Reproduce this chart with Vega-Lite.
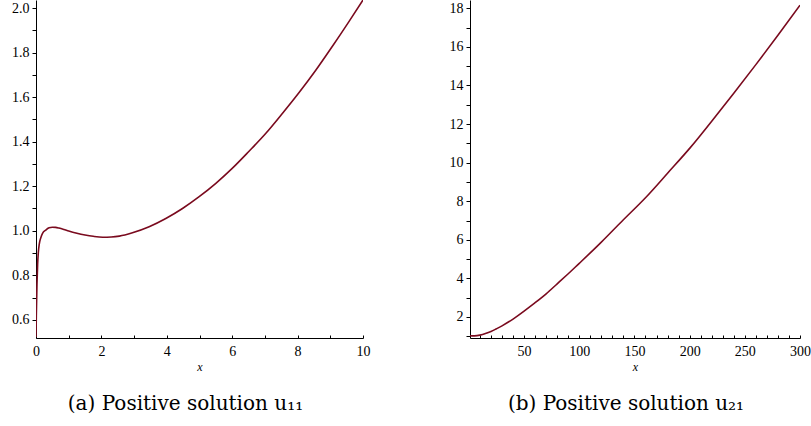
{
  "$schema": "https://vega.github.io/schema/vega-lite/v6.json",
  "padding": {"left": 11, "top": 0, "right": 3, "bottom": 0},
  "spacing": 79,
  "background": "white",
  "config": {
    "view": {"stroke": null},
    "axis": {
      "labelFont": "Liberation Serif, Times New Roman, serif",
      "labelFontSize": 14,
      "labelColor": "black",
      "titleFont": "Liberation Serif, Times New Roman, serif",
      "titleFontSize": 12,
      "titleFontStyle": "italic",
      "titleFontWeight": "normal",
      "titleColor": "black",
      "domainColor": "black",
      "tickColor": "black",
      "grid": false,
      "labelFlush": false,
      "labelOverlap": false
    },
    "title": {"font": "DejaVu Serif, serif", "fontSize": 20, "fontWeight": "normal", "color": "black"}
  },
  "datasets": {
    "u11": [
      {"x": 0, "y": 0.523},
      {"x": 0.01, "y": 0.62},
      {"x": 0.03, "y": 0.76},
      {"x": 0.05, "y": 0.85},
      {"x": 0.07, "y": 0.9},
      {"x": 0.1, "y": 0.94},
      {"x": 0.15, "y": 0.97},
      {"x": 0.2, "y": 0.988},
      {"x": 0.3, "y": 1.003},
      {"x": 0.4, "y": 1.013},
      {"x": 0.5, "y": 1.016},
      {"x": 0.6, "y": 1.015},
      {"x": 0.7, "y": 1.012},
      {"x": 0.85, "y": 1.006},
      {"x": 1.0, "y": 0.999},
      {"x": 1.25, "y": 0.989},
      {"x": 1.5, "y": 0.981},
      {"x": 1.75, "y": 0.975},
      {"x": 2.04, "y": 0.971},
      {"x": 2.3, "y": 0.972},
      {"x": 2.55, "y": 0.976},
      {"x": 2.95, "y": 0.991},
      {"x": 3.46, "y": 1.018},
      {"x": 3.97, "y": 1.055},
      {"x": 4.48, "y": 1.1},
      {"x": 4.99, "y": 1.153},
      {"x": 5.5, "y": 1.213},
      {"x": 6.0, "y": 1.28},
      {"x": 6.5, "y": 1.355},
      {"x": 7.03, "y": 1.438},
      {"x": 7.54, "y": 1.528},
      {"x": 8.04, "y": 1.62},
      {"x": 8.55, "y": 1.72},
      {"x": 9.06, "y": 1.828},
      {"x": 9.57, "y": 1.94},
      {"x": 10, "y": 2.037}
    ],
    "u21": [
      {"x": 1, "y": 1.03},
      {"x": 5, "y": 1.02},
      {"x": 10, "y": 1.06},
      {"x": 15, "y": 1.14},
      {"x": 20, "y": 1.25},
      {"x": 25, "y": 1.39},
      {"x": 30, "y": 1.54},
      {"x": 40, "y": 1.89},
      {"x": 50, "y": 2.3},
      {"x": 60, "y": 2.74},
      {"x": 70, "y": 3.2},
      {"x": 80, "y": 3.72},
      {"x": 90, "y": 4.24},
      {"x": 100, "y": 4.78},
      {"x": 120, "y": 5.88},
      {"x": 140, "y": 7.04},
      {"x": 160, "y": 8.18},
      {"x": 180, "y": 9.45},
      {"x": 200, "y": 10.74},
      {"x": 220, "y": 12.15},
      {"x": 240, "y": 13.6},
      {"x": 260, "y": 15.08},
      {"x": 280, "y": 16.6},
      {"x": 300, "y": 18.16}
    ]
  },
  "hconcat": [
    {
      "width": 327,
      "height": 338,
      "data": {"name": "u11"},
      "title": {"text": "(a) Positive solution u₁₁", "orient": "bottom", "offset": 22, "anchor": "middle", "frame": "group", "dx": -14},
      "mark": {"type": "line", "color": "#7a0a1e", "strokeWidth": 1.6, "interpolate": "monotone", "clip": true},
      "encoding": {
        "x": {
          "field": "x", "type": "quantitative", "title": "x",
          "scale": {"domain": [0, 10], "nice": false, "zero": false},
          "axis": {"values": [0,1,2,3,4,5,6,7,8,9,10], "labelExpr": "datum.value % 2 == 0 ? datum.label : ''", "tickSize": -3, "labelPadding": 9, "titlePadding": 3}
        },
        "y": {
          "field": "y", "type": "quantitative", "title": null,
          "scale": {"domain": [0.518, 2.037], "nice": false, "zero": false},
          "axis": {"values": [0.6,0.7,0.8,0.9,1.0,1.1,1.2,1.3,1.4,1.5,1.6,1.7,1.8,1.9,2.0], "labelExpr": "round(datum.value*10) % 2 == 0 ? format(datum.value, '.1f') : ''", "tickSize": 4, "labelPadding": 3}
        }
      }
    },
    {
      "width": 330,
      "height": 338,
      "data": {"name": "u21"},
      "title": {"text": "(b) Positive solution u₂₁", "orient": "bottom", "offset": 22, "anchor": "middle", "frame": "group", "dx": -9},
      "mark": {"type": "line", "color": "#7a0a1e", "strokeWidth": 1.6, "interpolate": "natural", "clip": true},
      "encoding": {
        "x": {
          "field": "x", "type": "quantitative", "title": "x",
          "scale": {"domain": [1, 300], "nice": false, "zero": false},
          "axis": {"values": [10,20,30,40,50,60,70,80,90,100,110,120,130,140,150,160,170,180,190,200,210,220,230,240,250,260,270,280,290,300], "labelExpr": "datum.value % 50 == 0 ? datum.label : ''", "tickSize": -3, "labelPadding": 9, "titlePadding": 3}
        },
        "y": {
          "field": "y", "type": "quantitative", "title": null,
          "scale": {"domain": [0.91, 18.43], "nice": false, "zero": false},
          "axis": {"values": [1,2,3,4,5,6,7,8,9,10,11,12,13,14,15,16,17,18], "labelExpr": "datum.value % 2 == 0 ? datum.label : ''", "tickSize": 4, "labelPadding": 3}
        }
      }
    }
  ]
}
